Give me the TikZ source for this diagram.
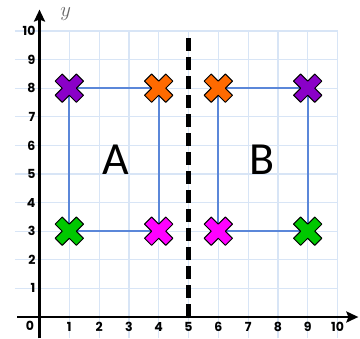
\documentclass[tikz,border=0pt]{standalone}
\usepackage{fontspec}
\setmainfont{Carlito}
\newfontfamily\tickfont{Poppins}[UprightFont=* Bold]
\usetikzlibrary{arrows.meta}
\definecolor{gridblue}{HTML}{D8E5F6}
\definecolor{rectblue}{HTML}{5B87D9}
\definecolor{cpurple}{HTML}{8A00C8}
\definecolor{corange}{HTML}{FF6A00}
\definecolor{cgreen}{HTML}{00C800}
\definecolor{cmagenta}{HTML}{FF00FF}
\tikzset{
  gridline/.style={draw=gridblue, line width=1.2pt},
  rectline/.style={draw=rectblue, line width=2pt},
  axisline/.style={draw=black, line width=2.4pt},
  ticklab/.style={font=\tickfont\fontsize{12.5}{12.5}\selectfont, inner sep=0pt},
  biglet/.style={font=\fontsize{46}{46}\selectfont, inner sep=0pt},
  pics/xmark/.style={code={
    \filldraw[fill=#1, draw=black, line width=1pt, line join=round]
      (5pt,15pt) -- (5pt,5pt) -- (15pt,5pt) -- (15pt,-5pt) -- (5pt,-5pt) -- (5pt,-15pt)
      -- (-5pt,-15pt) -- (-5pt,-5pt) -- (-15pt,-5pt) -- (-15pt,5pt) -- (-5pt,5pt) -- (-5pt,15pt) -- cycle;
  }}
}
\begin{document}
\begin{tikzpicture}[x=29.8pt,y=28.6pt]
\useasboundingbox (-1.3255,-0.7343) rectangle (10.755,11.0839);
% grid
\foreach \i in {1,...,10} \draw[gridline] (\i,-0.75) -- (\i,10);
\foreach \j in {1,...,10} \draw[gridline] (-0.83,\j) -- (10,\j);
% corner points
\coordinate (a1) at (1,8);
\coordinate (a2) at (4,8);
\coordinate (a3) at (4,3);
\coordinate (a4) at (1,3);
\coordinate (b1) at (6,8);
\coordinate (b2) at (9,8);
\coordinate (b3) at (9,3);
\coordinate (b4) at (6,3);
% rectangles
\draw[rectline] (a1) -- (a2) -- (a3) -- (a4) -- cycle;
\draw[rectline] (b1) -- (b2) -- (b3) -- (b4) -- cycle;
% mirror line
\coordinate (mtop) at (5,9.75);
\coordinate (mbot) at (5,0);
\draw[black, line width=4.5pt, dash pattern=on 13pt off 6pt] (mtop) -- (mbot);
% axes
\coordinate (xs) at (-0.75,0);
\coordinate (xe) at (10.7,0);
\coordinate (ys) at (0,-0.75);
\coordinate (ye) at (0,10.75);
\draw[axisline, -{Stealth[length=12pt,width=11pt,inset=2pt]}] (xs) -- (xe);
\draw[axisline, -{Stealth[length=12pt,width=11pt,inset=2pt]}] (ys) -- (ye);
% tick labels
\node[ticklab] (l0) at (-0.32,-0.3) {0};
\foreach \i in {1,...,10} \node[ticklab] (lx\i) at (\i,-0.36) {\i};
\foreach \j in {1,...,10} \node[ticklab, anchor=east] (ly\j) at (-0.13,\j) {\j};
\node[text=black!60, font=\fontsize{20}{20}\selectfont, inner sep=0pt] (ylab) at (0.88,10.58) {$y$};
% letters
\node[biglet] (A) at (2.55,5.5) {A};
\node[biglet] (B) at (7.47,5.5) {B};
% crosses
\path (a1) pic[rotate=45] {xmark=cpurple};
\path (a2) pic[rotate=45] {xmark=corange};
\path (a3) pic[rotate=45] {xmark=cmagenta};
\path (a4) pic[rotate=45] {xmark=cgreen};
\path (b1) pic[rotate=45] {xmark=corange};
\path (b2) pic[rotate=45] {xmark=cpurple};
\path (b3) pic[rotate=45] {xmark=cgreen};
\path (b4) pic[rotate=45] {xmark=cmagenta};
\end{tikzpicture}
\end{document}
